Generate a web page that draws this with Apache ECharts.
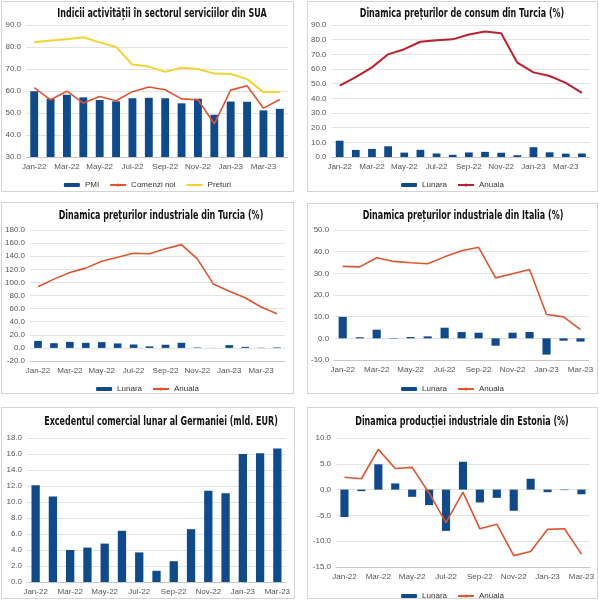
<!DOCTYPE html>
<html>
<head>
<meta charset="utf-8">
<script src="https://cdn.jsdelivr.net/npm/echarts@6/dist/echarts.min.js"></script>
<style>
  body { margin: 0; background: #fff; }
  .box { position: absolute; border: 1px solid #d4d4d4; box-sizing: border-box; }
</style>
</head>
<body>
<div class="box" id="p1" style="left:1px;top:1px;width:293px;height:191px"></div>
<div class="box" id="p2" style="left:307px;top:1px;width:291px;height:191px"></div>
<div class="box" id="p3" style="left:1px;top:202px;width:293px;height:192px"></div>
<div class="box" id="p4" style="left:307px;top:203px;width:291px;height:191px"></div>
<div class="box" id="p5" style="left:1px;top:407px;width:294px;height:192px"></div>
<div class="box" id="p6" style="left:307px;top:407px;width:291px;height:192px"></div>
<script>
// luni
const months16 = ['Jan-22', 'Feb-22', 'Mar-22', 'Apr-22', 'May-22', 'Jun-22', 'Jul-22', 'Aug-22',
    'Sep-22', 'Oct-22', 'Nov-22', 'Dec-22', 'Jan-23', 'Feb-23', 'Mar-23', 'Apr-23']
const months15 = months16.slice(0, 15)

// SUA - servicii
const suaPmi = [59.9, 56.5, 58.3, 57.1, 55.9, 55.3, 56.7, 56.9, 56.7, 54.4, 56.5, 49.2, 55.2, 55.1, 51.2, 51.9]
const suaComenzi = [61.5, 56.0, 59.9, 54.5, 57.5, 55.6, 59.7, 61.8, 60.6, 56.4, 56.0, 45.1, 60.4, 62.4, 52.2, 56.1]
const suaPreturi = [82.2, 82.9, 83.5, 84.4, 82.1, 80.0, 72.0, 71.1, 68.7, 70.6, 70.0, 67.9, 67.7, 65.4, 59.5, 59.6]

// Turcia - preturi de consum
const trCpiLunara = [11.1, 4.8, 5.5, 7.3, 3.0, 4.9, 2.4, 1.5, 3.1, 3.5, 2.9, 1.2, 6.7, 3.2, 2.3, 2.4]
const trCpiAnuala = [48.7, 54.4, 61.1, 70.0, 73.5, 78.6, 79.6, 80.2, 83.5, 85.5, 84.4, 64.3, 57.7, 55.2, 50.5, 43.7]

// Turcia - preturi industriale
const trPpiLunara = [10.5, 7.2, 9.2, 7.7, 8.8, 6.8, 5.2, 2.4, 4.8, 7.8, 0.7, -0.2, 4.2, 1.6, 0.4, 0.8]
const trPpiAnuala = [93.5, 105.0, 115.0, 121.8, 132.2, 138.3, 144.6, 143.8, 151.5, 157.7, 136.0, 97.7, 86.5, 76.6, 62.4, 52.1]

// Italia - preturi industriale
const itLunara = [9.9, 0.5, 4.0, -0.2, 0.6, 0.9, 4.9, 2.9, 2.6, -3.4, 2.6, 2.9, -7.5, -1.1, -1.5]
const itAnuala = [33.2, 33.0, 37.2, 35.5, 34.9, 34.4, 37.6, 40.4, 42.0, 27.9, 29.8, 31.8, 11.0, 9.9, 4.0]

// Germania - excedent comercial
const deExcedent = [12.1, 10.7, 4.0, 4.3, 4.8, 6.4, 3.7, 1.4, 2.6, 6.6, 11.4, 11.1, 16.0, 16.1, 16.7]

// Estonia - productie industriala
const eeLunara = [-5.3, -0.3, 4.9, 1.2, -1.4, -3.0, -8.0, 5.4, -2.5, -1.6, -4.1, 2.1, -0.5, -0.1, -0.9]
const eeAnuala = [2.4, 2.1, 7.8, 4.1, 4.3, -0.7, -6.4, -0.5, -7.6, -6.7, -12.8, -12.0, -7.7, -7.6, -12.5]

const BLUE = '#0e4a8c'
const RED = '#e0542e'
const DARKRED = '#bd1f2c'
const YELLOW = '#f4d433'
const LABEL = { color: '#555', fontSize: 8, fontFamily: 'Liberation Sans, Arial' }

// construieste optiunile unui grafic
const build = (cfg) => {
    const series = cfg.series.map(s => s.type === 'bar'
        ? { name: s.name, type: 'bar', data: s.data, barWidth: '48%', itemStyle: { color: BLUE } }
        : {
            name: s.name, type: 'line', data: s.data, symbol: 'none',
            lineStyle: { color: s.color, width: s.width || 1.6 }, itemStyle: { color: s.color }
        })
    const option = {
        animation: false,
        graphic: [{
            type: 'text', x: cfg.titleX, y: cfg.titleY, scaleX: 0.685,
            style: {
                text: cfg.title, fill: '#111', align: 'center', verticalAlign: 'middle',
                font: 'bold 13px "DejaVu Sans Condensed"'
            }
        }],
        grid: cfg.grid,
        xAxis: {
            type: 'category', data: cfg.categories,
            axisLine: { onZero: false, lineStyle: { color: '#c8c8c8' } },
            axisTick: { show: false },
            axisLabel: Object.assign({ interval: 1, margin: 6 }, LABEL)
        },
        yAxis: {
            type: 'value', min: cfg.min, max: cfg.max, interval: cfg.step,
            axisLine: { show: false }, axisTick: { show: false },
            axisLabel: Object.assign({ formatter: v => v.toFixed(1), margin: 5 }, LABEL),
            splitLine: { lineStyle: { color: '#e3e3e3' } }
        },
        series: series
    }
    if (cfg.legendTop !== undefined) {
        option.legend = {
            top: cfg.legendTop, left: 'center', itemWidth: 16, itemHeight: 4, itemGap: 10,
            textStyle: { color: '#333', fontSize: 8, fontFamily: 'Liberation Sans, Arial' }
        }
    }
    return option
}

const charts = [
    ['p1', {
        title: 'Indicii activității în sectorul serviciilor din SUA', titleX: 160, titleY: 12,
        categories: months16, min: 30, max: 90, step: 10,
        grid: { left: 24, right: 5, top: 23, bottom: 34 }, legendTop: 174,
        series: [
            { type: 'bar', name: 'PMI', data: suaPmi },
            { type: 'line', name: 'Comenzi noi', data: suaComenzi, color: RED },
            { type: 'line', name: 'Preturi', data: suaPreturi, color: YELLOW, width: 2 }
        ]
    }],
    ['p2', {
        title: 'Dinamica prețurilor de consum din Turcia (%)', titleX: 154, titleY: 12,
        categories: months16, min: 0, max: 90, step: 10,
        grid: { left: 22, right: 7, top: 23, bottom: 34 }, legendTop: 174,
        series: [
            { type: 'bar', name: 'Lunara', data: trCpiLunara },
            { type: 'line', name: 'Anuala', data: trCpiAnuala, color: DARKRED, width: 2 }
        ]
    }],
    ['p3', {
        title: 'Dinamica prețurilor industriale din Turcia (%)', titleX: 159, titleY: 13,
        categories: months16, min: -20, max: 180, step: 20,
        grid: { left: 25, right: 8, top: 27, bottom: 32 }, legendTop: 177,
        series: [
            { type: 'bar', name: 'Lunara', data: trPpiLunara },
            { type: 'line', name: 'Anuala', data: trPpiAnuala, color: RED }
        ]
    }],
    ['p4', {
        title: 'Dinamica prețurilor industriale din Italia (%)', titleX: 155, titleY: 12,
        categories: months15, min: -10, max: 50, step: 10,
        grid: { left: 23, right: 8, top: 26, bottom: 33 }, legendTop: 176,
        series: [
            { type: 'bar', name: 'Lunara', data: itLunara },
            { type: 'line', name: 'Anuala', data: itAnuala, color: RED }
        ]
    }],
    ['p5', {
        title: 'Excedentul comercial lunar al Germaniei (mld. EUR)', titleX: 159, titleY: 14,
        categories: months15, min: 0, max: 18, step: 2,
        grid: { left: 25, right: 8, top: 30, bottom: 16 },
        series: [
            { type: 'bar', name: 'Excedent', data: deExcedent }
        ]
    }],
    ['p6', {
        title: 'Dinamica producției industriale din Estonia (%)', titleX: 154, titleY: 14,
        categories: months15, min: -15, max: 10, step: 5,
        grid: { left: 28, right: 4, top: 30, bottom: 31 }, legendTop: 179,
        series: [
            { type: 'bar', name: 'Lunara', data: eeLunara },
            { type: 'line', name: 'Anuala', data: eeAnuala, color: RED }
        ]
    }]
]

charts.forEach(([id, cfg]) => {
    const mychart = echarts.init(document.getElementById(id))
    mychart.setOption(build(cfg))
})
</script>
</body>
</html>
